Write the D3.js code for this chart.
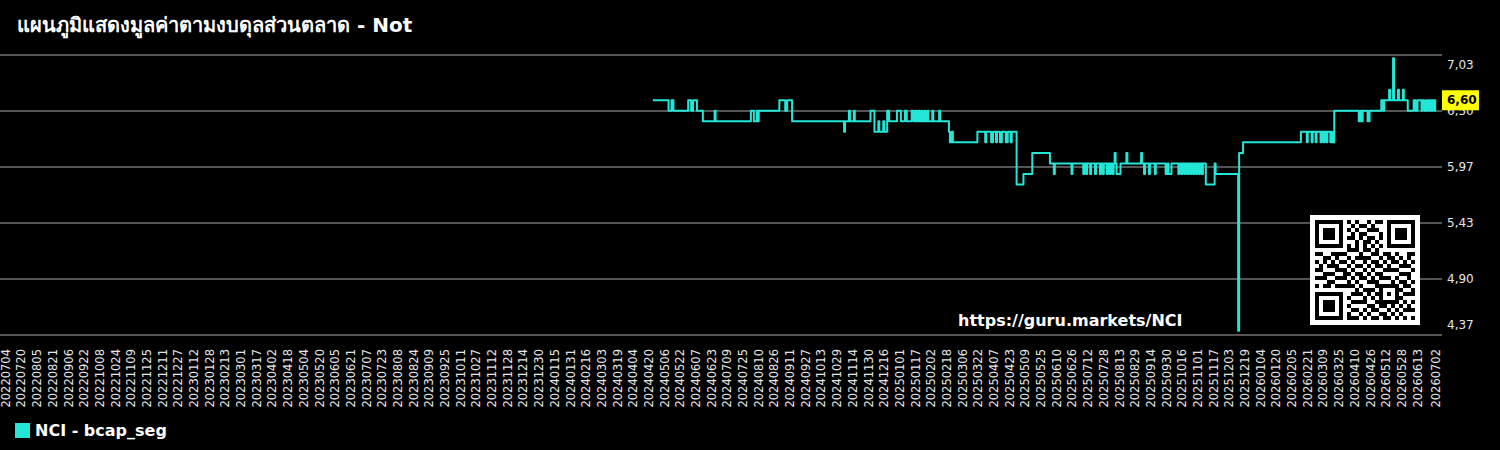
<!DOCTYPE html>
<html><head><meta charset="utf-8">
<script src="https://cdn.jsdelivr.net/npm/d3@7"></script>
<style>html,body{margin:0;padding:0;background:#000;overflow:hidden}svg{display:block}text{font-family:"DejaVu Sans",sans-serif}</style>
</head><body><svg id="chart" width="1500" height="450"></svg>
<script>
const titleText = "แผนภูมิแสดงมูลค่าตามงบดุลส่วนตลาด - Not";
const seriesName = "NCI - bcap_seg";
const watermark = "https://guru.markets/NCI";
const lastValue = 6.60;
const yTickValues = [4.37, 4.902, 5.434, 5.966, 6.498, 7.03];
const xTickLabels = ["20220704","20220720","20220805","20220821","20220906","20220922","20221008","20221024","20221109","20221125","20221211","20221227","20230112","20230128","20230213","20230301","20230317","20230402","20230418","20230504","20230520","20230605","20230621","20230707","20230723","20230808","20230824","20230909","20230925","20231011","20231027","20231112","20231128","20231214","20231230","20240115","20240131","20240216","20240303","20240319","20240404","20240420","20240506","20240522","20240607","20240623","20240709","20240725","20240810","20240826","20240911","20240927","20241013","20241029","20241114","20241130","20241216","20250101","20250117","20250202","20250218","20250306","20250322","20250407","20250423","20250509","20250525","20250610","20250626","20250712","20250728","20250813","20250829","20250914","20250930","20251016","20251101","20251117","20251203","20251219","20260104","20260120","20260205","20260221","20260309","20260325","20260410","20260426","20260512","20260528","20260613","20260702"];
const xDomain = ["20220704", "20260702"];
const seriesDates = ["20240424","20240510","20240513","20240515","20240530","20240602","20240604","20240608","20240614","20240626","20240627","20240802","20240805","20240808","20240809","20240810","20240831","20240906","20240908","20240913","20241105","20241106","20241110","20241111","20241115","20241116","20241202","20241206","20241210","20241211","20241215","20241216","20241219","20241221","20241229","20250102","20250106","20250108","20250113","20250115","20250117","20250118","20250120","20250121","20250123","20250124","20250126","20250127","20250129","20250130","20250203","20250204","20250210","20250211","20250220","20250221","20250223","20250224","20250321","20250329","20250330","20250404","20250406","20250409","20250410","20250413","20250415","20250419","20250421","20250424","20250425","20250430","20250507","20250516","20250603","20250607","20250608","20250625","20250626","20250707","20250708","20250710","20250711","20250714","20250715","20250719","20250720","20250724","20250725","20250727","20250728","20250731","20250801","20250803","20250804","20250806","20250807","20250808","20250809","20250810","20250814","20250820","20250821","20250904","20250905","20250907","20250908","20250912","20250913","20250918","20250919","20250929","20251001","20251002","20251005","20251012","20251013","20251015","20251016","20251018","20251019","20251021","20251022","20251024","20251025","20251027","20251028","20251030","20251031","20251102","20251103","20251105","20251106","20251109","20251118","20251119","20251212","20251213","20251217","20260214","20260220","20260221","20260225","20260226","20260301","20260302","20260306","20260307","20260309","20260310","20260312","20260313","20260316","20260317","20260318","20260320","20260414","20260416","20260417","20260418","20260423","20260425","20260507","20260509","20260510","20260515","20260516","20260519","20260520","20260524","20260525","20260529","20260530","20260603","20260609","20260611","20260613","20260617","20260618","20260620","20260622","20260624","20260625","20260627","20260628","20260630","20260701","20260702"];
const seriesValues = [6.60,6.50,6.60,6.50,6.60,6.50,6.60,6.50,6.40,6.50,6.40,6.50,6.40,6.50,6.40,6.50,6.60,6.50,6.60,6.40,6.30,6.40,6.50,6.40,6.50,6.40,6.50,6.30,6.40,6.30,6.40,6.30,6.50,6.40,6.50,6.40,6.50,6.40,6.50,6.40,6.50,6.40,6.50,6.40,6.50,6.40,6.50,6.40,6.50,6.40,6.50,6.40,6.50,6.40,6.30,6.20,6.30,6.20,6.30,6.20,6.30,6.20,6.30,6.20,6.30,6.20,6.30,6.20,6.30,6.20,6.30,5.80,5.90,6.10,6.00,5.90,6.00,5.90,6.00,5.90,6.00,5.90,6.00,5.90,6.00,5.90,6.00,5.90,6.00,5.90,6.00,5.90,6.00,5.90,6.00,5.90,6.00,6.10,6.00,5.90,6.00,6.10,6.00,6.10,6.00,5.90,6.00,5.90,6.00,5.90,6.00,5.90,6.00,5.90,6.00,5.90,6.00,5.90,6.00,5.90,6.00,5.90,6.00,5.90,6.00,5.90,6.00,5.90,6.00,5.90,6.00,5.90,6.00,5.80,6.00,5.90,4.41,6.10,6.20,6.30,6.20,6.30,6.20,6.30,6.20,6.30,6.20,6.30,6.20,6.30,6.20,6.30,6.20,6.30,6.20,6.50,6.40,6.50,6.40,6.50,6.40,6.50,6.60,6.50,6.60,6.70,6.60,7.00,6.60,6.70,6.60,6.70,6.60,6.50,6.60,6.50,6.60,6.50,6.60,6.50,6.60,6.50,6.60,6.50,6.60,6.50,6.60,6.60];
const qrData = [
"1011001110100101101100110","0110101001011010010111001","1101010110100111001010110","0010111001011000110101011",
"1100100111010110101100101","0111011000101101010011010","1010110101010010111010101","0101001011101101000101100",
"1100110100010011011010011","0011011010111100101101010","1010100101001011010110101","0101110010110101101001110",
"1100011101001010011110001","0011100110110101100001110","1110010101011010111010010","0001101010100111000101101",
"1011010111010001101010110","0100111000101110010111001","1011000101110101101000111","0110101110001010010111000",
"1001010001111001101010101","0111101010000110110101010","1000110101101011001010111","0101011010010100110101000",
"1010100111101011011010101"];

const W = 1500, H = 450;
const lineColor = "#22e6d6";
const svg = d3.select("#chart");
svg.append("rect").attr("width", W).attr("height", H).attr("fill", "#000");
const parse = d3.utcParse("%Y%m%d");
const x = d3.scaleUtc().domain(xDomain.map(parse)).range([5.8, 1436.2]);
const y = d3.scaleLinear().domain([yTickValues[0], yTickValues[yTickValues.length - 1]]).range([335, 55]);
const fmt = v => d3.format(".2f")(v).replace(".", ",");

// grid
svg.append("g").selectAll("line").data(yTickValues).join("line")
  .attr("x1", 0).attr("x2", 1442).attr("y1", d => y(d)).attr("y2", d => y(d))
  .attr("stroke", "#555").attr("stroke-width", 2);

// y labels
svg.append("g").selectAll("text").data(yTickValues).join("text")
  .attr("x", 1447)
  .attr("y", (d, i) => y(d) + (i === 0 ? -10 : (i === yTickValues.length - 1 ? 10 : 0)))
  .attr("dominant-baseline", "central").attr("font-size", 12).attr("fill", "#e6e6e6")
  .text(d => fmt(d));

// x labels
svg.append("g").selectAll("text").data(xTickLabels).join("text")
  .attr("transform", d => `translate(${x(parse(d))},349) rotate(-90)`)
  .attr("text-anchor", "end").attr("dominant-baseline", "central")
  .attr("font-size", 11.5).attr("fill", "#e6e6e6").text(d => d);

// series
const pts = seriesDates.map((d, i) => ({ date: parse(d), v: seriesValues[i] }));
svg.append("path").datum(pts)
  .attr("d", d3.line().x(d => x(d.date)).y(d => y(d.v)).curve(d3.curveStepAfter))
  .attr("fill", "none").attr("stroke", lineColor).attr("stroke-width", 2).attr("stroke-linejoin", "round");

// last value label
const ly = y(lastValue);
svg.append("rect").attr("x", 1442).attr("y", ly - 10).attr("width", 37).attr("height", 20).attr("fill", "#ffff00");
svg.append("text").attr("x", 1447).attr("y", ly).attr("dominant-baseline", "central")
  .attr("font-size", 12).attr("font-weight", "bold").attr("fill", "#000").text(fmt(lastValue));

// title
svg.append("text").attr("x", 17).attr("y", 32).attr("font-size", 20).attr("font-weight", "bold")
  .attr("fill", "#fff").text(titleText);

// watermark
svg.append("text").attr("x", 958).attr("y", 326).attr("font-size", 16).attr("font-weight", "bold")
  .attr("fill", "#fff").text(watermark);

// QR
const qx = 1310, qy = 215, qs = 110, mod = 4, q0 = 5;
svg.append("rect").attr("x", qx).attr("y", qy).attr("width", qs).attr("height", qs).attr("fill", "#fff");
function qrCell(r, c) {
  const finder = (fr, fc) => {
    const a = r - fr, b = c - fc;
    if (a < -1 || a > 7 || b < -1 || b > 7) return null;
    if (a < 0 || a > 6 || b < 0 || b > 6) return 0;
    if (a === 0 || a === 6 || b === 0 || b === 6) return 1;
    if (a >= 2 && a <= 4 && b >= 2 && b <= 4) return 1;
    return 0;
  };
  for (const [fr, fc] of [[0, 0], [0, 18], [18, 0]]) { const f = finder(fr, fc); if (f !== null) return f; }
  if (r >= 16 && r <= 20 && c >= 16 && c <= 20) {
    const a = r - 16, b = c - 16;
    if (a === 0 || a === 4 || b === 0 || b === 4) return 1;
    return (a === 2 && b === 2) ? 1 : 0;
  }
  if (r === 6) return c % 2 === 0 ? 1 : 0;
  if (c === 6) return r % 2 === 0 ? 1 : 0;
  return qrData[r].charAt(c) === "1" ? 1 : 0;
}
const cells = [];
for (let r = 0; r < 25; r++) for (let c = 0; c < 25; c++) if (qrCell(r, c)) cells.push([r, c]);
svg.append("g").selectAll("rect").data(cells).join("rect")
  .attr("x", d => qx + q0 + d[1] * mod).attr("y", d => qy + q0 + d[0] * mod)
  .attr("width", mod).attr("height", mod).attr("fill", "#000");

// legend
svg.append("rect").attr("x", 15).attr("y", 423).attr("width", 15).attr("height", 15).attr("fill", lineColor);
svg.append("text").attr("x", 35).attr("y", 436).attr("font-size", 16).attr("font-weight", "bold")
  .attr("fill", "#fff").text(seriesName);
</script></body></html>
